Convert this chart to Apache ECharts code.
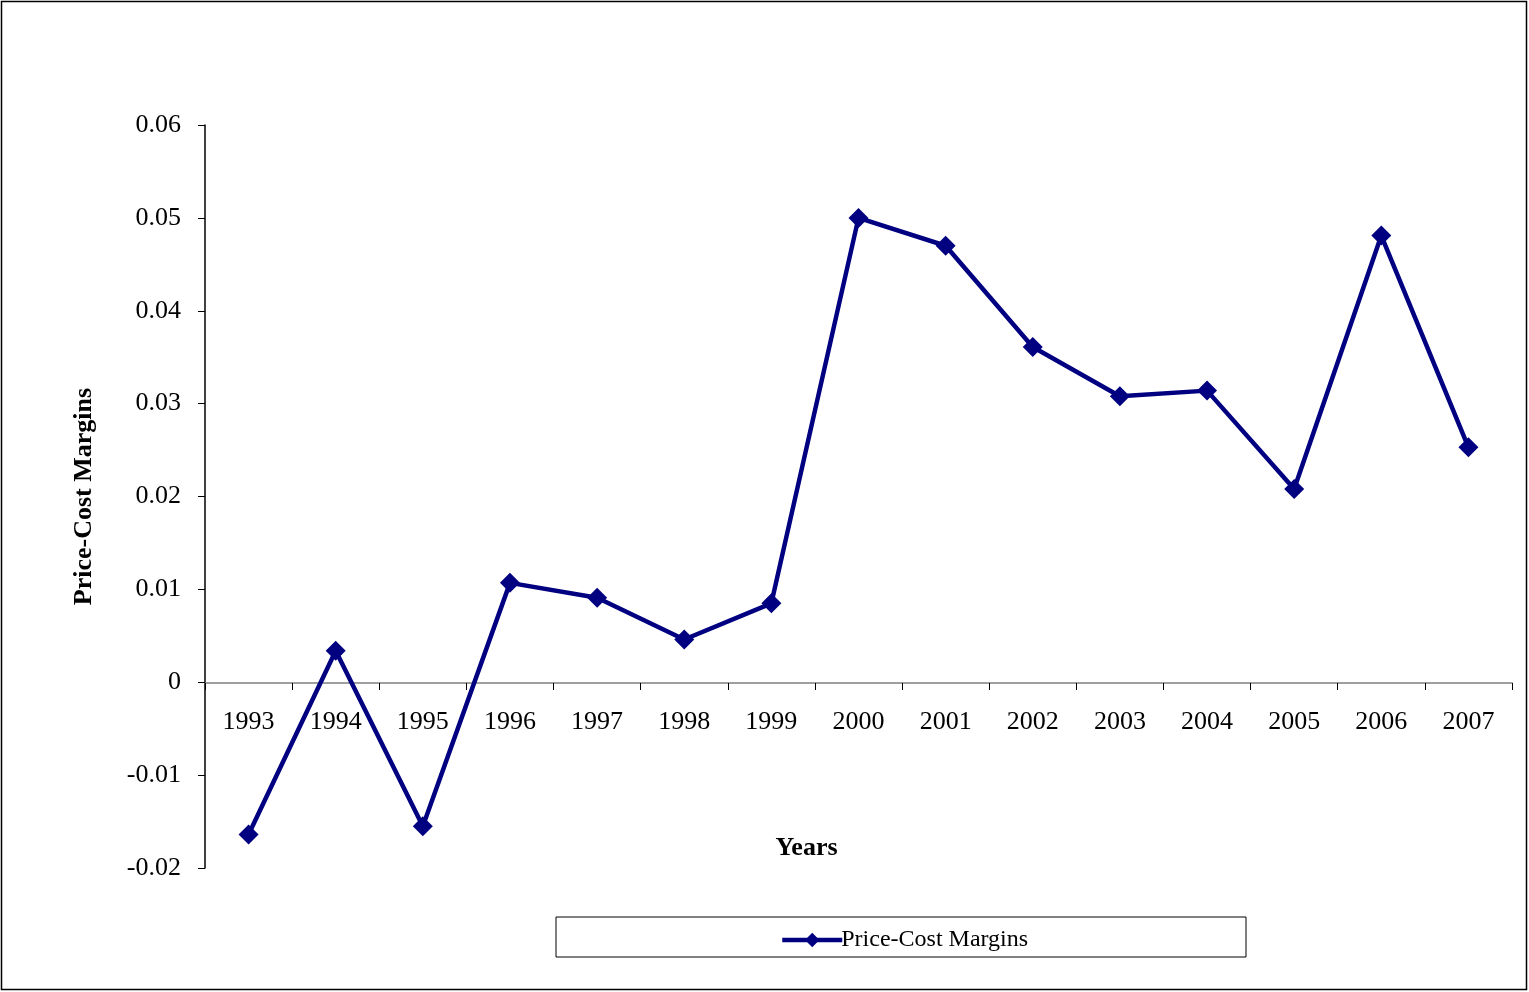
<!DOCTYPE html>
<html><head><meta charset="utf-8">
<script src="https://cdn.jsdelivr.net/npm/echarts@6/dist/echarts.min.js"></script>
<style>html,body{margin:0;padding:0;background:#fff}#c{width:1529px;height:992px}</style>
</head><body><div id="c"></div>
<script>
const years = ['1993','1994','1995','1996','1997','1998','1999','2000','2001','2002','2003','2004','2005','2006','2007'];
const margins = [-0.0164, 0.0034, -0.0155, 0.0107, 0.0091, 0.0046, 0.0085, 0.0500, 0.0470, 0.0361, 0.0308, 0.0314, 0.0208, 0.0481, 0.0253];
const seriesName = 'Price-Cost Margins';
const xTitle = 'Years';
const yTitle = 'Price-Cost Margins';

const font = '"Liberation Serif", "Times New Roman", serif';
const chart = echarts.init(document.getElementById('c'), null, {renderer: 'canvas'});
chart.setOption({
  backgroundColor: '#fff',
  animation: false,
  textStyle: {fontFamily: font},
  graphic: [
    {type: 'rect', shape: {x: 1.5, y: 1.5, width: 1525, height: 988}, style: {fill: 'none', stroke: '#000', lineWidth: 1.5}, silent: true, z: -1},
    {type: 'rect', shape: {x: 556, y: 917, width: 690, height: 40}, style: {fill: 'none', stroke: '#000', lineWidth: 1}, silent: true, z: -1}
  ],
  legend: {
    data: [seriesName],
    left: 775,
    top: 923,
    itemWidth: 60,
    itemHeight: 18,
    itemGap: 0,
    lineStyle: {width: 4.5},
    textStyle: {fontFamily: font, fontSize: 24, color: '#000', padding: [0,0,0,-6]}
  },
  grid: {left: 205, right: 17, top: 125, bottom: 124, outerBoundsMode: 'none', containLabel: false},
  xAxis: {
    type: 'category',
    data: years,
    boundaryGap: true,
    position: 'bottom',
    offset: -185,
    name: xTitle,
    nameLocation: 'middle',
    nameGap: 152,
    nameTextStyle: {fontFamily: font, fontSize: 26, fontWeight: 'bold', color: '#000', padding: [0, 104, 0, 0]},
    axisLine: {onZero: false, lineStyle: {color: '#808080', width: 1.5}},
    axisTick: {show: true, length: 7, inside: false, lineStyle: {color: '#000'}},
    axisLabel: {fontFamily: font, fontSize: 26, color: '#000', margin: 26}
  },
  yAxis: {
    type: 'value',
    min: -0.02,
    max: 0.06,
    interval: 0.01,
    name: yTitle,
    nameLocation: 'middle',
    nameGap: 108,
    nameTextStyle: {fontFamily: font, fontSize: 26, fontWeight: 'bold', color: '#000'},
    splitLine: {show: false},
    axisLine: {show: true, lineStyle: {color: '#000', width: 1.5}},
    axisTick: {show: true, length: 7, lineStyle: {color: '#000'}},
    axisLabel: {fontFamily: font, fontSize: 26, color: '#000', margin: 24,
      formatter: v => { const r = Math.round(v*100)/100; return r === 0 ? '0' : r.toFixed(2); }}
  },
  series: [{
    name: seriesName,
    type: 'line',
    data: margins,
    symbol: 'diamond',
    symbolSize: 20,
    lineStyle: {color: '#000080', width: 4.5},
    itemStyle: {color: '#000080'}
  }]
});
</script></body></html>
